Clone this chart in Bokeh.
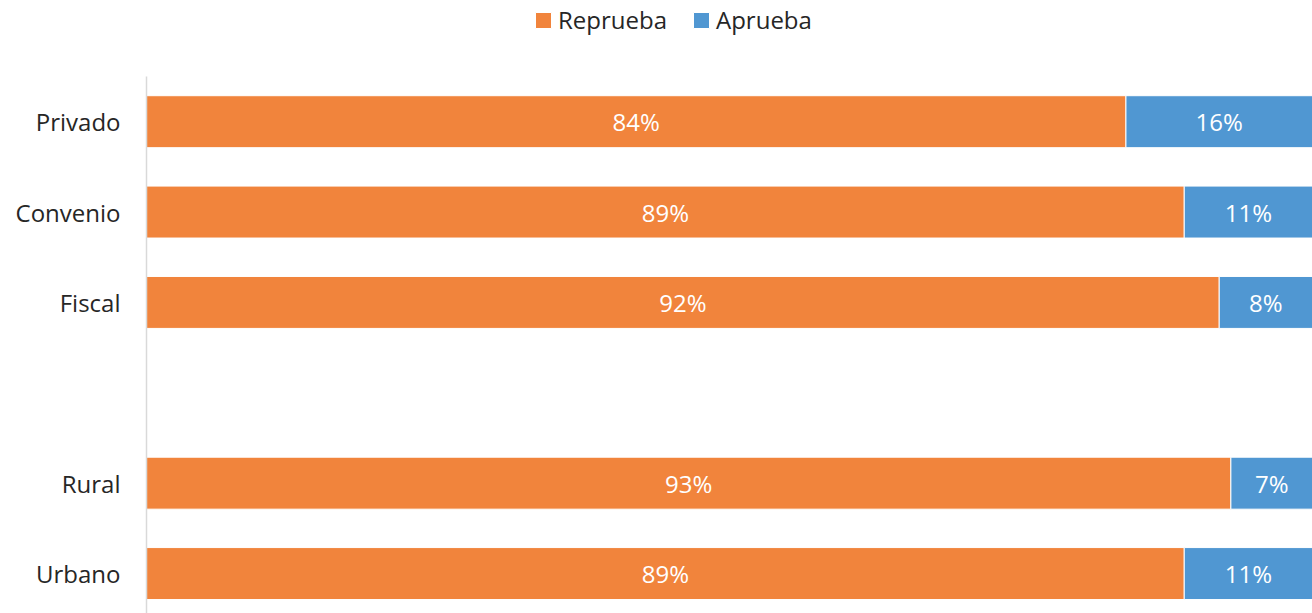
from bokeh.plotting import figure
from bokeh.models import ColumnDataSource, Range1d, FixedTicker, Legend, LegendItem
from bokeh.embed import file_html
from bokeh.resources import INLINE
from bokeh.core.properties import value

categories = ["Privado", "Convenio", "Fiscal", "", "Rural", "Urbano"]
reprueba = [84, 89, 92, None, 93, 89]
aprueba = [16, 11, 8, None, 7, 11]
series_names = ["Reprueba", "Aprueba"]
colors = ["#F1843C", "#5097D2"]

FONT = "Open Sans"

idx = [i for i in range(len(categories)) if reprueba[i] is not None]
r = [reprueba[i] for i in idx]
a = [aprueba[i] for i in idx]
src = ColumnDataSource(dict(
    y=idx,
    r=r,
    total=[ri + ai for ri, ai in zip(r, a)],
    r_mid=[ri / 2 for ri in r],
    a_mid=[ri + ai / 2 for ri, ai in zip(r, a)],
    r_lbl=[f"{v}%" for v in r],
    a_lbl=[f"{v}%" for v in a],
))

p = figure(width=1312, height=613,
           x_range=Range1d(0, 100), y_range=Range1d(5.442, -1.341),
           output_backend="svg", toolbar_location=None,
           min_border_left=146, min_border_right=0,
           min_border_top=0, min_border_bottom=0)

rr = p.hbar(y="y", left=0, right="r", height=0.575, fill_color=colors[0],
            line_color="white", line_width=1, source=src)
ra = p.hbar(y="y", left="r", right="total", height=0.575, fill_color=colors[1],
            line_color="white", line_width=1, source=src)

for xcol, tcol in (("r_mid", "r_lbl"), ("a_mid", "a_lbl")):
    p.text(x=xcol, y="y", text=tcol, text_align="center", text_baseline="middle",
           text_color="white", text_font=value(FONT), text_font_size="24px",
           source=src)

p.xaxis.visible = False
p.xgrid.visible = False
p.ygrid.visible = False
p.outline_line_color = None

yax = p.yaxis[0]
yax.bounds = (-0.5, 5.442)
yax.ticker = FixedTicker(ticks=list(range(len(categories))))
yax.major_label_overrides = {i: c for i, c in enumerate(categories)}
yax.major_tick_line_color = None
yax.major_tick_out = 0
yax.major_tick_in = 0
yax.minor_tick_line_color = None
yax.axis_line_color = "#D9D9D9"
yax.axis_line_width = 1.5
yax.major_label_standoff = 26
yax.major_label_text_font = FONT
yax.major_label_text_font_size = "24px"
yax.major_label_text_color = "#262626"

legend = Legend(items=[LegendItem(label=series_names[0], renderers=[rr]),
                       LegendItem(label=series_names[1], renderers=[ra])],
                orientation="horizontal", location=(387, 577),
                glyph_width=20, glyph_height=20, label_standoff=5, spacing=24,
                padding=0, margin=0, border_line_color=None,
                background_fill_alpha=0,
                label_text_font=FONT, label_text_font_size="24px",
                label_text_color="#262626")
p.add_layout(legend, "center")

open("out.html", "w").write(file_html(p, INLINE))
